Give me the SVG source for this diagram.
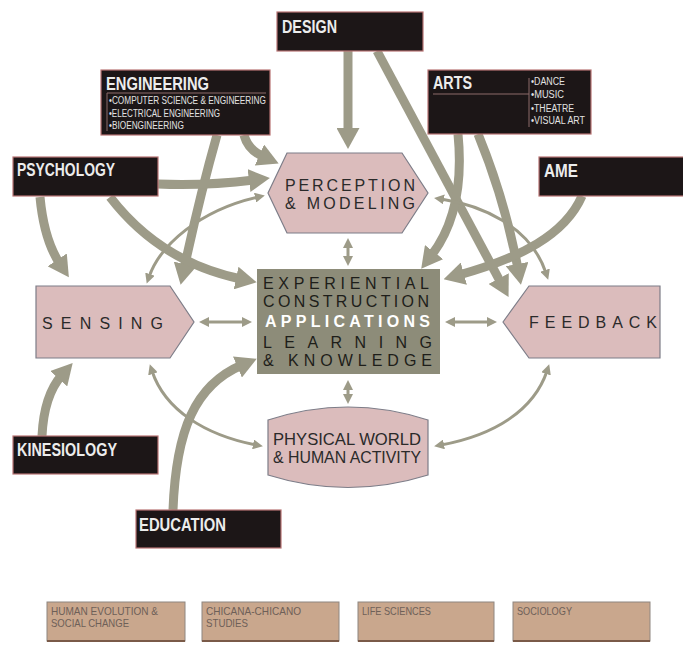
<svg xmlns="http://www.w3.org/2000/svg" width="683" height="652" viewBox="0 0 683 652">
<style>
.bk{fill:#1c1617;stroke:#b87474;stroke-width:1.2}
.tt{font-family:"Liberation Sans",Arial,sans-serif;font-weight:bold;font-size:18px;fill:#ececec}
.sm{font-family:"Liberation Sans",Arial,sans-serif;font-size:10px;fill:#e2e2e2}
.pk{fill:#dbbcbc;stroke:#7d7d88;stroke-width:1.2}
.lb{font-family:"Liberation Sans",Arial,sans-serif;font-size:16px;fill:#2a2a2a}
.ct{font-family:"Liberation Sans",Arial,sans-serif;font-size:16px;fill:#1e1e1a}
.th{fill:none;stroke:#9d9b88;stroke-width:9;marker-end:url(#ah)}
.tn{fill:none;stroke:#9d9b88;stroke-width:3;marker-start:url(#as);marker-end:url(#ae)}
.tan{fill:#c9a78d;stroke:#8e8680;stroke-width:1}
.tb{font-family:"Liberation Sans",Arial,sans-serif;font-size:11px;fill:#6e6058}
.br{stroke:#8c6a6a;stroke-width:1;fill:none}
</style>
<defs>
<marker id="ah" markerUnits="userSpaceOnUse" markerWidth="21" markerHeight="23" viewBox="0 0 21 23" refX="5" refY="11.5" orient="auto"><path d="M0,0 L21,11.5 L0,23 Z" fill="#9d9b88"/></marker>
<marker id="ae" markerUnits="userSpaceOnUse" markerWidth="10" markerHeight="10" viewBox="0 0 10 10" refX="3" refY="5" orient="auto"><path d="M0,0 L10,5 L0,10 Z" fill="#9d9b88"/></marker>
<marker id="as" markerUnits="userSpaceOnUse" markerWidth="10" markerHeight="10" viewBox="0 0 10 10" refX="3" refY="5" orient="auto-start-reverse"><path d="M0,0 L10,5 L0,10 Z" fill="#9d9b88"/></marker>
</defs>
<rect width="683" height="652" fill="#ffffff"/>

<g id="connectors">
<path class="th" d="M348,51 L348,133"/>
<path class="th" d="M377,51 L501,283"/>
<path class="th" d="M458,134 C463,185 455,225 431,256"/>
<path class="th" d="M478,134 Q505,200 518,269"/>
<path class="th" d="M582,196 C565,235 520,258 459,275"/>
<path class="th" d="M244,135 Q248,150 264,157"/>
<path class="th" d="M217,135 Q200,195 184,269"/>
<path class="th" d="M158,184 Q205,186 254,180"/>
<path class="th" d="M110,197 Q160,262 241,279"/>
<path class="th" d="M40,197 Q44,240 60,264"/>
<path class="th" d="M42,436 Q44,395 62,375"/>
<path class="th" d="M173,510 C176,430 195,385 242,365"/>
<path class="tn" d="M206,322 L245,322"/>
<path class="tn" d="M452,322 L490,322"/>
<path class="tn" d="M348,245 L348,259"/>
<path class="tn" d="M348,387 L348,397"/>
<path class="tn" d="M149,277 C160,245 200,210 258,197"/>
<path class="tn" d="M441,199 C480,205 530,225 546,273"/>
<path class="tn" d="M152,371 C165,410 205,435 256,445"/>
<path class="tn" d="M547,371 C534,410 495,435 441,445"/>
</g>

<g id="design">
<rect class="bk" x="277" y="12" width="146" height="39"/>
<text class="tt" x="282" y="33" textLength="55" lengthAdjust="spacingAndGlyphs">DESIGN</text>
</g>
<g id="engineering">
<rect class="bk" x="101" y="70" width="169" height="65"/>
<text class="tt" x="106" y="90" textLength="103" lengthAdjust="spacingAndGlyphs">ENGINEERING</text>
<path class="br" d="M266,93 L107,93 L107,131"/>
<text class="sm" x="109" y="104" textLength="157" lengthAdjust="spacingAndGlyphs">•COMPUTER SCIENCE &amp; ENGINEERING</text>
<text class="sm" x="109" y="117" textLength="111" lengthAdjust="spacingAndGlyphs">•ELECTRICAL ENGINEERING</text>
<text class="sm" x="109" y="129" textLength="75" lengthAdjust="spacingAndGlyphs">•BIOENGINEERING</text>
</g>
<g id="arts">
<rect class="bk" x="428" y="70" width="163" height="64"/>
<text class="tt" x="433" y="89" textLength="39" lengthAdjust="spacingAndGlyphs">ARTS</text>
<path class="br" d="M433,94 L529,94 M529,78 L529,127"/>
<text class="sm" x="531" y="85" textLength="34" lengthAdjust="spacingAndGlyphs">•DANCE</text>
<text class="sm" x="531" y="98" textLength="33" lengthAdjust="spacingAndGlyphs">•MUSIC</text>
<text class="sm" x="531" y="112" textLength="43" lengthAdjust="spacingAndGlyphs">•THEATRE</text>
<text class="sm" x="531" y="124" textLength="54" lengthAdjust="spacingAndGlyphs">•VISUAL ART</text>
</g>
<g id="psychology">
<rect class="bk" x="13" y="157" width="145" height="39"/>
<text class="tt" x="17" y="176" textLength="98" lengthAdjust="spacingAndGlyphs">PSYCHOLOGY</text>
</g>
<g id="ame">
<rect class="bk" x="539" y="157" width="146" height="39"/>
<text class="tt" x="544" y="177" textLength="34" lengthAdjust="spacingAndGlyphs">AME</text>
</g>
<g id="kinesiology">
<rect class="bk" x="13" y="436" width="145" height="38"/>
<text class="tt" x="17" y="456" textLength="100" lengthAdjust="spacingAndGlyphs">KINESIOLOGY</text>
</g>
<g id="education">
<rect class="bk" x="136" y="510" width="145" height="38"/>
<text class="tt" x="139" y="531" textLength="87" lengthAdjust="spacingAndGlyphs">EDUCATION</text>
</g>

<g id="perception">
<polygon class="pk" points="268,193 287,153 402,153 428,193 402,233 287,233"/>
<text class="lb" x="285" y="191" textLength="130" lengthAdjust="spacing">PERCEPTION</text>
<text class="lb" x="285" y="209" textLength="130" lengthAdjust="spacing">&amp; MODELING</text>
</g>
<g id="center">
<rect x="257" y="269" width="183" height="105" fill="#8d8c79"/>
<text class="ct" x="263" y="289" textLength="166" lengthAdjust="spacing">EXPERIENTIAL</text>
<text class="ct" x="263" y="307" textLength="166" lengthAdjust="spacing">CONSTRUCTION</text>
<text class="ct" x="265" y="327" textLength="165" lengthAdjust="spacing" style="fill:#ffffff;font-weight:bold">APPLICATIONS</text>
<text class="ct" x="263" y="348" textLength="169" lengthAdjust="spacing">LEARNING</text>
<text class="ct" x="263" y="366" textLength="169" lengthAdjust="spacing">&amp; KNOWLEDGE</text>
</g>
<g id="sensing">
<polygon class="pk" points="36,286 170,286 194,322 170,358 36,358"/>
<text class="lb" x="42" y="329" textLength="121" lengthAdjust="spacing">SENSING</text>
</g>
<g id="feedback">
<polygon class="pk" points="503,322 529,286 660,286 660,358 529,358"/>
<text class="lb" x="529" y="328" textLength="128" lengthAdjust="spacing">FEEDBACK</text>
</g>
<g id="physical">
<path class="pk" d="M268,420 Q348,394 428,420 L428,475 Q348,500 268,475 Z"/>
<text class="lb" x="273" y="445" textLength="148" lengthAdjust="spacingAndGlyphs" style="font-size:17px">PHYSICAL WORLD</text>
<text class="lb" x="273" y="463" textLength="148" lengthAdjust="spacingAndGlyphs" style="font-size:17px">&amp; HUMAN ACTIVITY</text>
</g>

<g id="human-evolution">
<rect class="tan" x="47" y="602" width="138" height="39"/>
<line x1="47" y1="641" x2="185" y2="641" stroke="#7a5a48" stroke-width="2"/>
<text class="tb" x="51" y="615" textLength="107" lengthAdjust="spacingAndGlyphs">HUMAN EVOLUTION &amp;</text>
<text class="tb" x="51" y="627" textLength="78" lengthAdjust="spacingAndGlyphs">SOCIAL CHANGE</text>
</g>
<g id="chicana">
<rect class="tan" x="202" y="602" width="137" height="39"/>
<line x1="202" y1="641" x2="339" y2="641" stroke="#7a5a48" stroke-width="2"/>
<text class="tb" x="206" y="615" textLength="95" lengthAdjust="spacingAndGlyphs">CHICANA-CHICANO</text>
<text class="tb" x="206" y="627" textLength="42" lengthAdjust="spacingAndGlyphs">STUDIES</text>
</g>
<g id="life-sciences">
<rect class="tan" x="358" y="602" width="136" height="39"/>
<line x1="358" y1="641" x2="494" y2="641" stroke="#7a5a48" stroke-width="2"/>
<text class="tb" x="362" y="615" textLength="69" lengthAdjust="spacingAndGlyphs">LIFE SCIENCES</text>
</g>
<g id="sociology">
<rect class="tan" x="513" y="602" width="137" height="39"/>
<line x1="513" y1="641" x2="650" y2="641" stroke="#7a5a48" stroke-width="2"/>
<text class="tb" x="517" y="615" textLength="55" lengthAdjust="spacingAndGlyphs">SOCIOLOGY</text>
</g>
</svg>
